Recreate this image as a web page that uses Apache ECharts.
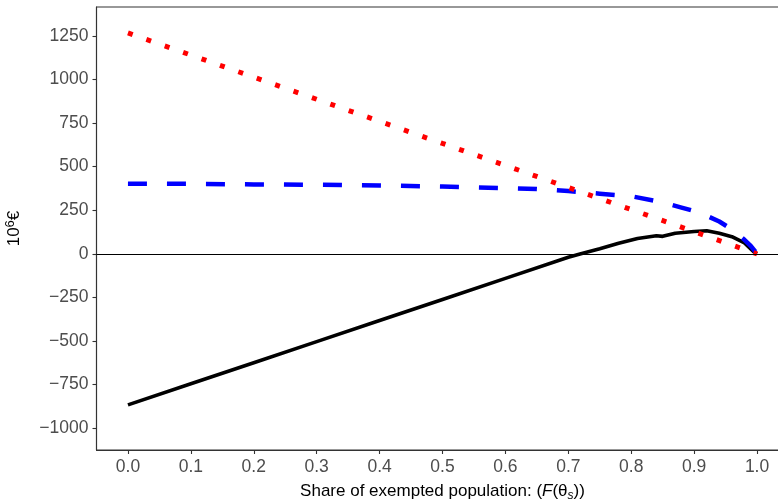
<!DOCTYPE html>
<html>
<head>
<meta charset="utf-8">
<style>
  html, body { margin: 0; padding: 0; background: #fff; }
  #chart { width: 778px; height: 500px; }
</style>
<script src="https://cdn.jsdelivr.net/npm/echarts@6/dist/echarts.min.js"></script>
</head>
<body>
<div id="chart"></div>
<script>
// tick values
const xTicks = [0, 0.1, 0.2, 0.3, 0.4, 0.5, 0.6, 0.7, 0.8, 0.9, 1.0];
const yTicks = [-1000, -750, -500, -250, 0, 250, 500, 750, 1000, 1250];

// black solid line
const blackX = [0, 0.1, 0.2, 0.3, 0.4, 0.5, 0.6, 0.7, 0.72, 0.75, 0.78, 0.81, 0.84, 0.85, 0.87, 0.9, 0.92, 0.94, 0.96, 0.98, 0.995, 1.0];
const blackY = [-867, -746, -625, -504, -383, -262, -141, -20, 0, 29, 60, 88, 103, 100, 118, 128, 132, 118, 98, 62, 10, 0];

// blue dashed line
const blueX = [0, 0.1, 0.2, 0.3, 0.4, 0.5, 0.6, 0.65, 0.7, 0.75, 0.8, 0.85, 0.88, 0.91, 0.94, 0.96, 0.98, 0.99, 1.0];
const blueY = [402, 401, 398, 396, 392, 386, 377, 372, 360, 345, 330, 295, 265, 235, 185, 140, 80, 45, 0];

// red dotted line
const redX = [0, 0.25, 0.5, 0.75, 0.9, 0.95, 1.0];
const redY = [1267, 950, 633, 317, 127, 63, 0];

const pairs = (xs, ys) => xs.map((x, i) => [x, ys[i]]);

const chart = echarts.init(document.getElementById('chart'));
const font = "'Liberation Sans', Arial, sans-serif";

const option = {
  animation: false,
  grid: {
    left: 96.5,
    right: -10.5,
    top: 7,
    bottom: 50,
    containLabel: false,
    outerBoundsMode: 'none',
    show: true,
    borderColor: '#333',
    borderWidth: 1.1
  },
  xAxis: {
    type: 'value',
    min: -0.05,
    max: 1.05,
    splitLine: { show: false },
    axisLine: { show: true, onZero: false, lineStyle: { color: '#333', width: 1.1 } },
    axisTick: { show: true, length: 4, customValues: xTicks, lineStyle: { color: '#333', width: 1.1 } },
    axisLabel: {
      customValues: xTicks,
      margin: 8,
      color: '#4d4d4d',
      fontSize: 17.5,
      fontFamily: font,
      formatter: (v) => v.toFixed(1)
    },
    name: '{n|Share of exempted population: (}{i|F}{n|(θ}{s|s}{n|))}',
    nameLocation: 'middle',
    nameGap: 30,
    nameTextStyle: {
      rich: {
        n: { fontSize: 17, fontFamily: font, color: '#000' },
        i: { fontSize: 17, fontFamily: font, fontStyle: 'italic', color: '#000' },
        s: { fontSize: 12, fontFamily: font, fontStyle: 'italic', color: '#000', padding: [10, 0, 0, 0] }
      }
    }
  },
  yAxis: {
    type: 'value',
    min: -1126,
    max: 1416,
    splitLine: { show: false },
    axisLine: { show: true, onZero: false, lineStyle: { color: '#333', width: 1.1 } },
    axisTick: { show: true, length: 4, customValues: yTicks, lineStyle: { color: '#333', width: 1.1 } },
    axisLabel: {
      customValues: yTicks,
      margin: 8,
      color: '#4d4d4d',
      fontSize: 17.5,
      fontFamily: font,
      formatter: (v) => String(v).replace('-', '\u2212')
    },
    name: '{a|10}{s|6}{a|€}',
    nameLocation: 'middle',
    nameGap: 71,
    nameRotate: 90,
    nameTextStyle: {
      rich: {
        a: { fontSize: 17, fontFamily: font, color: '#000' },
        s: { fontSize: 13, fontFamily: font, color: '#000', padding: [0, 0, 9, 0] }
      }
    }
  },
  series: [
    {
      type: 'line',
      data: pairs(blackX, blackY),
      showSymbol: false,
      lineStyle: { color: '#000', width: 3.6 },
      markLine: {
        silent: true,
        symbol: 'none',
        label: { show: false },
        lineStyle: { color: '#000', width: 1.1, type: 'solid' },
        data: [{ yAxis: 0 }]
      }
    },
    {
      type: 'line',
      data: pairs(blueX, blueY),
      showSymbol: false,
      lineStyle: { color: '#0000ff', width: 4.5, type: [19, 20], cap: 'butt' }
    },
    {
      type: 'line',
      data: pairs(redX, redY),
      showSymbol: false,
      lineStyle: { color: '#ff0000', width: 5, type: [5, 14.5], cap: 'butt' }
    }
  ]
};

chart.setOption(option);
</script>
</body>
</html>
